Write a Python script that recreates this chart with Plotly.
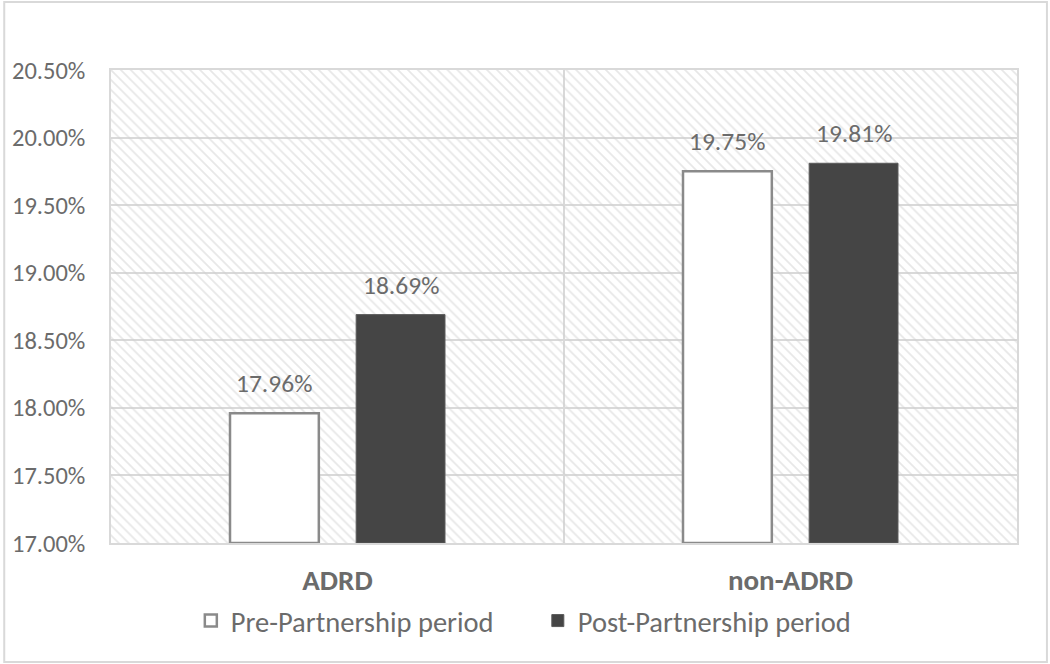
import plotly.graph_objects as go

categories = ["ADRD", "non-ADRD"]
series_names = ["Pre-Partnership period", "Post-Partnership period"]
pre_values = [17.96, 19.75]
post_values = [18.69, 19.81]
y_tick_vals = [17.0, 17.5, 18.0, 18.5, 19.0, 19.5, 20.0, 20.5]
y_tick_text = ["17.00%", "17.50%", "18.00%", "18.50%", "19.00%", "19.50%", "20.00%", "20.50%"]

FONT = "Calibri, Carlito, Lato, 'Open Sans', sans-serif"
TXT = "#6b6b6b"
GRID = "#d9d9d9"
BASE = 17.0
BARGAP = 0.443
BARGROUPGAP = 0.296

fig = go.Figure()

# hatched plot background (decoration on hidden base axes)
fig.add_trace(go.Scatter(
    x=[0, 1, 1, 0, 0], y=[0, 0, 1, 1, 0], mode="lines",
    line=dict(width=0), fill="toself",
    fillcolor="rgba(0,0,0,0)",
    fillpattern=dict(shape="\\", fgcolor="#d0d0d0", bgcolor="rgba(255,255,255,0)", size=7, solidity=0.25),
    hoverinfo="skip", showlegend=False, xaxis="x", yaxis="y",
))

series = [
    (series_names[0], pre_values, dict(color="white", line=dict(color="#8a8a8a", width=2.5))),
    (series_names[1], post_values, dict(color="#454545", line=dict(color="#5a5a5a", width=1))),
]
for name, vals, marker in series:
    fig.add_trace(go.Bar(
        name=name, x=categories, y=[v - BASE for v in vals], base=BASE,
        marker=marker, xaxis="x2", yaxis="y2", hoverinfo="x+y",
    ))

# data labels placed above each grouped bar
slot = (1 - BARGAP) / len(series)
annotations = []
for j, (name, vals, _) in enumerate(series):
    for i, v in enumerate(vals):
        annotations.append(dict(
            x=i + (j - (len(series) - 1) / 2) * slot, y=v, xref="x2", yref="y2",
            text=f"{v:.2f}%", showarrow=False, yanchor="bottom", yshift=12,
            font=dict(family=FONT, size=25.5, color=TXT),
        ))

fig.update_layout(
    width=1050, height=664,
    margin=dict(l=109, r=33, t=70, b=121),
    paper_bgcolor="white", plot_bgcolor="white",
    font=dict(family=FONT, color=TXT),
    barmode="group", bargap=BARGAP, bargroupgap=BARGROUPGAP,
    xaxis=dict(range=[0, 1], showticklabels=False, showgrid=True, tickvals=[0.5],
               gridcolor=GRID, gridwidth=1.5, zeroline=False, showline=False, fixedrange=True),
    yaxis=dict(range=[0, 1], showticklabels=False, showgrid=False, zeroline=False, showline=False),
    xaxis2=dict(overlaying="x", anchor="y2", side="bottom", showgrid=False,
                showline=True, mirror=True, linecolor=GRID, linewidth=1.5,
                tickfont=dict(family=FONT, size=29, color=TXT, weight="bold"),
                ticks="outside", ticklen=10, tickcolor="rgba(0,0,0,0)"),
    yaxis2=dict(overlaying="y", anchor="x2", range=[17.0, 20.5], tickvals=y_tick_vals,
                ticktext=y_tick_text, showgrid=True, gridcolor=GRID, gridwidth=1.5,
                zeroline=False, showline=True, mirror=True, linecolor=GRID, linewidth=1.5,
                tickfont=dict(family=FONT, size=24.5, color=TXT),
                ticks="outside", ticklen=19, tickcolor="rgba(0,0,0,0)"),
    legend=dict(orientation="h", x=(199 - 109 - 10) / 908, xanchor="left", y=-0.165, yanchor="middle",
                font=dict(family=FONT, size=28.5, color=TXT), itemwidth=30, entrywidth=302,
                entrywidthmode="pixels", traceorder="normal"),
    showlegend=True,
    annotations=annotations,
    shapes=[dict(type="rect", xref="paper", yref="paper", x0=-107/908, x1=1+30/908,
                 y0=-119/473, y1=1+68/473, line=dict(color=GRID, width=2), layer="below")],
)

fig.write_html("out.html", config={"displayModeBar": False},
               post_script="document.body.style.margin='0';")
